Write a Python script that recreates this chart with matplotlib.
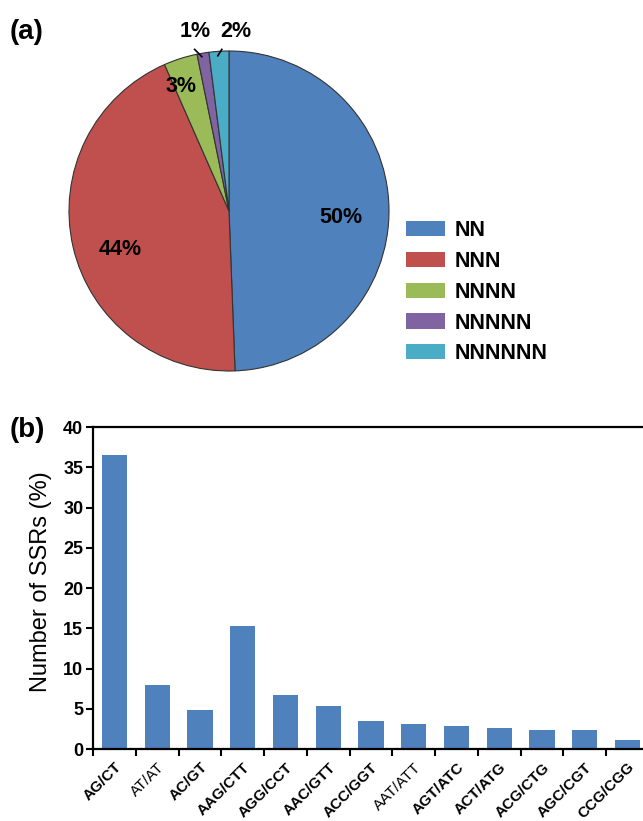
import matplotlib
matplotlib.use("Agg")
import matplotlib.pyplot as plt
from matplotlib.patches import Patch

plt.rcParams['font.family'] = ['Liberation Sans', 'DejaVu Sans']

# ---- data ----
pie_labels = ["NN", "NNN", "NNNN", "NNNNN", "NNNNNN"]
pie_values = [49.4, 44.0, 3.4, 1.2, 2.0]
pie_texts = ["50%", "44%", "3%", "1%", "2%"]
pie_colors = ["#4F81BD", "#C0504D", "#9BBB59", "#8064A2", "#4BACC6"]

bar_categories = ["AG/CT", "AT/AT", "AC/GT", "AAG/CTT", "AGG/CCT", "AAC/GTT",
                  "ACC/GGT", "AAT/ATT", "AGT/ATC", "ACT/ATG", "ACG/CTG",
                  "AGC/CGT", "CCG/CGG"]
bar_values = [36.5, 8.0, 4.85, 15.3, 6.7, 5.3, 3.5, 3.1, 2.8, 2.6, 2.4, 2.4, 1.1]
y_ticks = [0, 5, 10, 15, 20, 25, 30, 35, 40]

W, H = 643, 821
fig = plt.figure(figsize=(W / 100, H / 100), dpi=100)

def fx(px):
    return px / W

def fy(py):
    return 1 - py / H

# ---- (a) pie ----
cx, cy, r = 229, 211, 160
axp = fig.add_axes([fx(cx - r), fy(cy + r), 2 * r / W, 2 * r / H])
wedges, _ = axp.pie(pie_values, colors=pie_colors, startangle=90, counterclock=False,
                    wedgeprops=dict(edgecolor="#333333", linewidth=0.8))
axp.set_xlim(-1, 1)
axp.set_ylim(-1, 1)
axp.set_aspect('equal')
axp.axis('off')

label_pos = [(0.70, -0.04), (-0.68, -0.24), (-0.30, 0.78), (-0.21, 1.12), (0.045, 1.12)]
for (x, y), t in zip(label_pos, pie_texts):
    axp.text(x, y, t, ha='center', va='center', fontsize=15.5, fontweight='bold',
             clip_on=False)
# leader lines for small slices
axp.plot([-0.215, -0.17], [1.01, 0.965], color='black', lw=1.2, clip_on=False)
axp.plot([-0.045, -0.07], [1.01, 0.97], color='black', lw=1.2, clip_on=False)

handles = [Patch(facecolor=c, edgecolor='none') for c in pie_colors]
fig.legend(handles, pie_labels, loc='upper left',
           bbox_to_anchor=(fx(400), fy(214)), frameon=False,
           prop=dict(size=15.5, weight='bold'),
           handlelength=1.8, handleheight=0.7, handletextpad=0.45,
           labelspacing=0.45, borderaxespad=0, borderpad=0.3)

fig.text(fx(10), fy(32), "(a)", fontsize=20, fontweight='bold', va='center', ha='left')

# ---- (b) bar ----
left, right, top, bottom = 93, 649, 427, 749
axb = fig.add_axes([fx(left), fy(bottom), (right - left) / W, (bottom - top) / H])
x = list(range(len(bar_categories)))
axb.bar(x, bar_values, width=0.59, color="#4F81BD")
axb.set_xlim(-0.5, len(bar_categories) - 0.5)
axb.set_ylim(0, 40)
axb.set_yticks(y_ticks)
axb.set_yticklabels([str(v) for v in y_ticks], fontsize=13, fontweight='bold')
axb.set_xticks([i - 0.5 for i in x], minor=False)
axb.set_xticklabels([])
axb.set_xticks(x, minor=True)
axb.set_xticklabels(bar_categories, minor=True, rotation=45, ha='right',
                    rotation_mode='anchor', fontsize=11, fontweight='bold')
for lbl in axb.get_xticklabels(minor=True):
    if lbl.get_text() in ("AT/AT", "AAT/ATT"):
        lbl.set_fontweight('normal')
axb.tick_params(axis='x', which='minor', length=0, pad=8)
axb.tick_params(axis='x', which='major', length=5, width=1.5, direction='out')
axb.tick_params(axis='y', length=5, width=1.5, direction='out', pad=2)
for s in axb.spines.values():
    s.set_linewidth(1.6)
axb.set_ylabel("Number of SSRs (%)", fontsize=17)
axb.yaxis.set_label_coords(-0.074, 0.52)

fig.text(fx(10), fy(430), "(b)", fontsize=20, fontweight='bold', va='center', ha='left')

fig.savefig("out.png", dpi=100)
